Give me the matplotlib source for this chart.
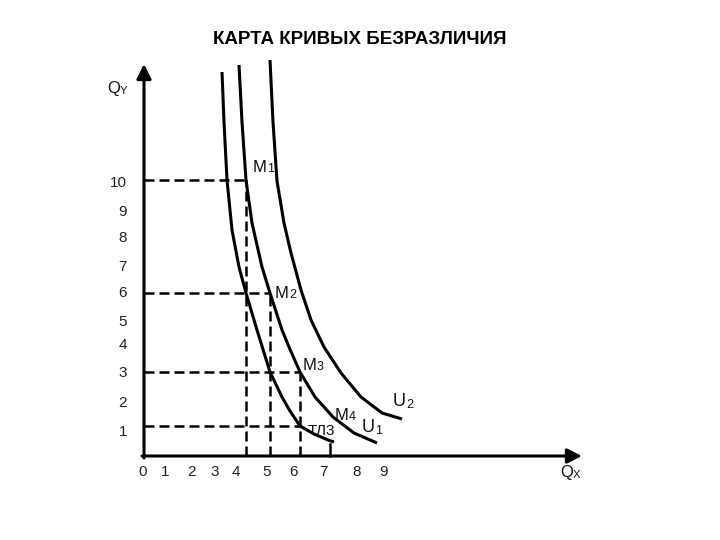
import matplotlib.pyplot as plt

plt.rcParams['font.family'] = ['Liberation Sans', 'DejaVu Sans']

# drawing units: pixels from the origin of the axes (origin at px 144, 456)
title = 'КАРТА КРИВЫХ БЕЗРАЗЛИЧИЯ'

x_tick_pos = [-1, 21, 48, 71, 92, 123, 149, 179, 213, 239]
x_tick_labels = ['0', '1', '2', '3', '4', '5', '6', '7', '8', '9']
y_tick_pos = [273, 244, 218, 189, 163, 134, 111, 83, 53, 24]
y_tick_labels = ['10', '9', '8', '7', '6', '5', '4', '3', '2', '1']

# indifference curves
inner_x = [78, 80, 83, 88, 95, 102, 113, 126, 138, 146, 156, 170, 184, 190]
inner_y = [384, 334, 276, 226, 189, 163, 126, 84, 59, 45, 30, 22, 16, 14]
u1_x = [95, 98, 102, 108, 118, 126, 138, 145, 156, 171, 189, 210, 233]
u1_y = [391, 334, 276, 233, 189, 163, 126, 109, 84, 59, 39, 23, 13]
u2_x = [126, 129, 133, 140, 147, 157, 167, 180, 197, 217, 238, 258]
u2_y = [396, 334, 275, 233, 203, 166, 136, 109, 83, 59, 43, 37]

# guide lines (M points)
level_y = [276, 163, 84, 30]
level_end_x = [102, 126, 156, 156]
drop_x = [102, 126, 156]
drop_top = [276, 163, 84]
tick_x = 186
tick_top = 12

fig = plt.figure(figsize=(7.2, 5.4), dpi=100)
ax = fig.add_axes([0, 0, 1, 1])
ax.set_xlim(-144, 576)
ax.set_ylim(-84, 456)
ax.axis('off')

# axes with arrows
ax.annotate('', xy=(0, 392), xytext=(0, -2),
            arrowprops=dict(arrowstyle='-|>', lw=2.2, color='black', mutation_scale=22, shrinkA=0, shrinkB=0))
ax.annotate('', xy=(438, 0), xytext=(-2, 0),
            arrowprops=dict(arrowstyle='-|>', lw=2.2, color='black', mutation_scale=22, shrinkA=0, shrinkB=0))

# dashed guides
for y, xe in zip(level_y, level_end_x):
    ax.plot([0, xe], [y, y], color='black', lw=1.8, dashes=(4, 2))
for x, yt in zip(drop_x, drop_top):
    ax.plot([x, x], [0, yt], color='black', lw=1.8, dashes=(4, 2))
ax.plot([tick_x, tick_x], [0, tick_top], color='black', lw=1.8)

# curves
for cx, cy in [(inner_x, inner_y), (u1_x, u1_y), (u2_x, u2_y)]:
    ax.plot(cx, cy, color='black', lw=2.2, solid_capstyle='butt', solid_joinstyle='round')

# tick labels
for x, s in zip(x_tick_pos, x_tick_labels):
    ax.text(x, -16, s, ha='center', va='center', fontsize=11, color='#222222')
for y, s in zip(y_tick_pos, y_tick_labels):
    ax.text(-17, y, s, ha='right', va='center', fontsize=11, color='#222222')


def sub_label(x, y, main, sub, size=12, subsize=9):
    t = ax.text(x, y, main, ha='left', va='center', fontsize=size, color='#111111')
    ax.annotate(sub, xy=(1, 0), xycoords=t, xytext=(0, 0), textcoords='offset points',
                ha='left', va='bottom', fontsize=subsize, color='#111111')


sub_label(109, 288, 'M', '1')
sub_label(131, 163, 'M', '2')
sub_label(159, 91, 'M', '3')
sub_label(191, 41, 'M', '4')
sub_label(218, 28, 'U', '1', size=13)
sub_label(249, 54, 'U', '2', size=13)
sub_label(-37, 368, 'Q', 'Y', size=12, subsize=8)
sub_label(416, -16, 'Q', 'X', size=12, subsize=8)
ax.text(164, 25, 'ТЛ3', ha='left', va='center', fontsize=11, color='#111111')

ax.text(216, 416, title, ha='center', va='center', fontsize=13.5, fontweight='bold')

fig.savefig('out.png', dpi=100, facecolor='white')
